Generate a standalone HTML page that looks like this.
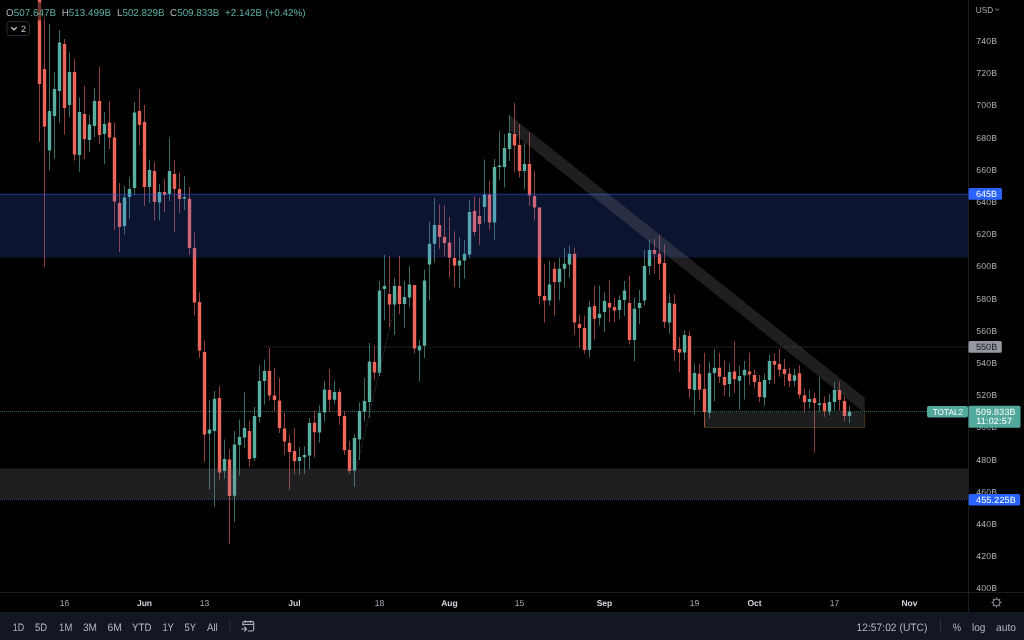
<!DOCTYPE html>
<html><head><meta charset="utf-8">
<style>
html,body{margin:0;padding:0;background:#000;}
body{width:1024px;height:640px;overflow:hidden;position:relative;font-family:"Liberation Sans",sans-serif;}
svg{position:absolute;left:0;top:0;display:block;}
svg text{font-family:"Liberation Sans",sans-serif;}
svg{-webkit-font-smoothing:antialiased;text-rendering:geometricPrecision;will-change:transform;}
.pl text{font-size:8.7px;fill:#a9acb4;}
.tn{font-size:8.5px;fill:#a9acb4;text-anchor:middle;}
.tb{font-size:8.5px;fill:#d1d4dc;font-weight:bold;text-anchor:middle;}
.lg{font-size:9.9px;}
.tbt{font-size:10.8px;fill:#b2b5be;}
</style></head>
<body>
<svg width="1024" height="640" viewBox="0 0 1024 640">
<defs><clipPath id="ch"><rect x="0" y="0" width="968" height="592"/></clipPath></defs>
<rect x="0" y="0" width="1024" height="640" fill="#000"/>
<g clip-path="url(#ch)">
<!-- dotted horizontal lines -->
<line x1="264" y1="347" x2="968" y2="347" stroke="#34363b" stroke-width="1" stroke-dasharray="1 1"/>
<line x1="0" y1="499.5" x2="968" y2="499.5" stroke="#35477f" stroke-width="1" stroke-dasharray="1 1"/>
<line x1="0" y1="411.5" x2="927" y2="411.5" stroke="#28665b" stroke-width="1" stroke-dasharray="1 1"/>
<!-- candles -->
<g>
<rect x="39.0" y="-20.0" width="1" height="162.00" fill="#ec665c" fill-opacity="0.62"/><rect x="37.8" y="-5.0" width="3.4" height="89.00" fill="#ec665c"/>
<rect x="44.0" y="15.0" width="1" height="252.00" fill="#ec665c" fill-opacity="0.62"/><rect x="42.8" y="69.0" width="3.4" height="57.60" fill="#ec665c"/>
<rect x="49.0" y="24.0" width="1" height="146.50" fill="#5aafa3" fill-opacity="0.62"/><rect x="47.8" y="111.0" width="3.4" height="39.50" fill="#5aafa3"/>
<rect x="54.0" y="72.0" width="1" height="86.50" fill="#5aafa3" fill-opacity="0.62"/><rect x="52.8" y="89.0" width="3.4" height="27.00" fill="#5aafa3"/>
<rect x="59.0" y="30.0" width="1" height="92.60" fill="#5aafa3" fill-opacity="0.62"/><rect x="57.8" y="42.5" width="3.4" height="48.50" fill="#5aafa3"/>
<rect x="64.0" y="39.0" width="1" height="95.60" fill="#ec665c" fill-opacity="0.62"/><rect x="62.8" y="44.0" width="3.4" height="64.00" fill="#ec665c"/>
<rect x="69.0" y="52.5" width="1" height="64.50" fill="#5aafa3" fill-opacity="0.62"/><rect x="67.8" y="72.0" width="3.4" height="33.00" fill="#5aafa3"/>
<rect x="74.0" y="59.0" width="1" height="101.60" fill="#ec665c" fill-opacity="0.62"/><rect x="72.8" y="72.0" width="3.4" height="82.50" fill="#ec665c"/>
<rect x="79.0" y="97.5" width="1" height="74.30" fill="#5aafa3" fill-opacity="0.62"/><rect x="77.8" y="112.0" width="3.4" height="43.00" fill="#5aafa3"/>
<rect x="84.0" y="86.0" width="1" height="73.00" fill="#ec665c" fill-opacity="0.62"/><rect x="82.8" y="114.0" width="3.4" height="25.00" fill="#ec665c"/>
<rect x="89.0" y="115.0" width="1" height="37.00" fill="#5aafa3" fill-opacity="0.62"/><rect x="87.8" y="124.5" width="3.4" height="15.50" fill="#5aafa3"/>
<rect x="94.0" y="88.0" width="1" height="49.00" fill="#5aafa3" fill-opacity="0.62"/><rect x="92.8" y="101.0" width="3.4" height="25.00" fill="#5aafa3"/>
<rect x="99.0" y="67.0" width="1" height="77.00" fill="#ec665c" fill-opacity="0.62"/><rect x="97.8" y="101.0" width="3.4" height="34.00" fill="#ec665c"/>
<rect x="104.0" y="112.0" width="1" height="52.00" fill="#5aafa3" fill-opacity="0.62"/><rect x="102.8" y="124.0" width="3.4" height="10.00" fill="#5aafa3"/>
<rect x="109.0" y="101.0" width="1" height="48.00" fill="#ec665c" fill-opacity="0.62"/><rect x="107.8" y="122.5" width="3.4" height="15.00" fill="#ec665c"/>
<rect x="114.0" y="122.6" width="1" height="107.40" fill="#ec665c" fill-opacity="0.62"/><rect x="112.8" y="137.5" width="3.4" height="64.00" fill="#ec665c"/>
<rect x="119.0" y="183.0" width="1" height="69.00" fill="#ec665c" fill-opacity="0.62"/><rect x="117.8" y="203.0" width="3.4" height="24.00" fill="#ec665c"/>
<rect x="124.0" y="186.0" width="1" height="48.50" fill="#5aafa3" fill-opacity="0.62"/><rect x="122.8" y="197.4" width="3.4" height="28.60" fill="#5aafa3"/>
<rect x="129.0" y="177.5" width="1" height="41.20" fill="#5aafa3" fill-opacity="0.62"/><rect x="127.8" y="189.0" width="3.4" height="8.00" fill="#5aafa3"/>
<rect x="134.0" y="102.0" width="1" height="93.00" fill="#5aafa3" fill-opacity="0.62"/><rect x="132.8" y="112.5" width="3.4" height="75.50" fill="#5aafa3"/>
<rect x="139.0" y="89.5" width="1" height="56.00" fill="#ec665c" fill-opacity="0.62"/><rect x="137.8" y="111.0" width="3.4" height="14.00" fill="#ec665c"/>
<rect x="144.0" y="105.0" width="1" height="101.00" fill="#ec665c" fill-opacity="0.62"/><rect x="142.8" y="122.0" width="3.4" height="65.00" fill="#ec665c"/>
<rect x="149.0" y="159.5" width="1" height="43.50" fill="#5aafa3" fill-opacity="0.62"/><rect x="147.8" y="170.0" width="3.4" height="17.00" fill="#5aafa3"/>
<rect x="154.0" y="162.0" width="1" height="58.50" fill="#ec665c" fill-opacity="0.62"/><rect x="152.8" y="171.0" width="3.4" height="31.00" fill="#ec665c"/>
<rect x="159.0" y="184.0" width="1" height="36.50" fill="#5aafa3" fill-opacity="0.62"/><rect x="157.8" y="192.0" width="3.4" height="10.50" fill="#5aafa3"/>
<rect x="164.0" y="179.0" width="1" height="33.00" fill="#ec665c" fill-opacity="0.62"/><rect x="162.8" y="192.0" width="3.4" height="3.00" fill="#ec665c"/>
<rect x="169.0" y="137.5" width="1" height="63.50" fill="#5aafa3" fill-opacity="0.62"/><rect x="167.8" y="171.0" width="3.4" height="23.00" fill="#5aafa3"/>
<rect x="174.0" y="160.5" width="1" height="71.50" fill="#ec665c" fill-opacity="0.62"/><rect x="172.8" y="174.0" width="3.4" height="15.00" fill="#ec665c"/>
<rect x="179.0" y="173.0" width="1" height="40.00" fill="#ec665c" fill-opacity="0.62"/><rect x="177.8" y="189.0" width="3.4" height="10.00" fill="#ec665c"/>
<rect x="184.0" y="176.0" width="1" height="34.00" fill="#5aafa3" fill-opacity="0.62"/><rect x="182.8" y="197.0" width="3.4" height="1.50" fill="#5aafa3"/>
<rect x="189.0" y="187.0" width="1" height="68.00" fill="#ec665c" fill-opacity="0.62"/><rect x="187.8" y="198.75" width="3.4" height="49.25" fill="#ec665c"/>
<rect x="194.0" y="232.5" width="1" height="83.00" fill="#ec665c" fill-opacity="0.62"/><rect x="192.8" y="248.0" width="3.4" height="54.50" fill="#ec665c"/>
<rect x="199.0" y="292.5" width="1" height="65.50" fill="#ec665c" fill-opacity="0.62"/><rect x="197.8" y="302.0" width="3.4" height="48.50" fill="#ec665c"/>
<rect x="204.0" y="340.5" width="1" height="121.50" fill="#ec665c" fill-opacity="0.62"/><rect x="202.8" y="352.0" width="3.4" height="82.50" fill="#ec665c"/>
<rect x="209.0" y="400.0" width="1" height="89.50" fill="#5aafa3" fill-opacity="0.62"/><rect x="207.8" y="429.5" width="3.4" height="4.25" fill="#5aafa3"/>
<rect x="214.0" y="391.0" width="1" height="116.00" fill="#5aafa3" fill-opacity="0.62"/><rect x="212.8" y="398.75" width="3.4" height="32.25" fill="#5aafa3"/>
<rect x="219.0" y="386.0" width="1" height="94.50" fill="#ec665c" fill-opacity="0.62"/><rect x="217.8" y="398.0" width="3.4" height="74.50" fill="#ec665c"/>
<rect x="224.0" y="439.5" width="1" height="39.25" fill="#5aafa3" fill-opacity="0.62"/><rect x="222.8" y="459.0" width="3.4" height="12.00" fill="#5aafa3"/>
<rect x="229.0" y="449.5" width="1" height="94.25" fill="#ec665c" fill-opacity="0.62"/><rect x="227.8" y="459.5" width="3.4" height="36.50" fill="#ec665c"/>
<rect x="234.0" y="431.0" width="1" height="91.00" fill="#5aafa3" fill-opacity="0.62"/><rect x="232.8" y="444.5" width="3.4" height="51.25" fill="#5aafa3"/>
<rect x="239.0" y="419.5" width="1" height="56.00" fill="#5aafa3" fill-opacity="0.62"/><rect x="237.8" y="437.0" width="3.4" height="8.00" fill="#5aafa3"/>
<rect x="244.0" y="392.5" width="1" height="55.50" fill="#5aafa3" fill-opacity="0.62"/><rect x="242.8" y="428.0" width="3.4" height="9.50" fill="#5aafa3"/>
<rect x="249.0" y="421.0" width="1" height="46.00" fill="#ec665c" fill-opacity="0.62"/><rect x="247.8" y="431.0" width="3.4" height="28.00" fill="#ec665c"/>
<rect x="254.0" y="407.0" width="1" height="54.00" fill="#5aafa3" fill-opacity="0.62"/><rect x="252.8" y="416.0" width="3.4" height="42.00" fill="#5aafa3"/>
<rect x="259.0" y="365.5" width="1" height="57.00" fill="#5aafa3" fill-opacity="0.62"/><rect x="257.8" y="381.0" width="3.4" height="36.00" fill="#5aafa3"/>
<rect x="264.0" y="359.5" width="1" height="45.00" fill="#5aafa3" fill-opacity="0.62"/><rect x="262.8" y="371.0" width="3.4" height="10.00" fill="#5aafa3"/>
<rect x="269.0" y="348.0" width="1" height="52.50" fill="#ec665c" fill-opacity="0.62"/><rect x="267.8" y="371.0" width="3.4" height="24.50" fill="#ec665c"/>
<rect x="274.0" y="368.0" width="1" height="43.00" fill="#ec665c" fill-opacity="0.62"/><rect x="272.8" y="395.5" width="3.4" height="4.50" fill="#ec665c"/>
<rect x="279.0" y="378.0" width="1" height="55.00" fill="#ec665c" fill-opacity="0.62"/><rect x="277.8" y="400.5" width="3.4" height="27.50" fill="#ec665c"/>
<rect x="284.0" y="413.0" width="1" height="41.75" fill="#ec665c" fill-opacity="0.62"/><rect x="282.8" y="428.5" width="3.4" height="13.00" fill="#ec665c"/>
<rect x="289.0" y="435.0" width="1" height="54.75" fill="#ec665c" fill-opacity="0.62"/><rect x="287.8" y="442.75" width="3.4" height="9.25" fill="#ec665c"/>
<rect x="294.0" y="428.0" width="1" height="46.00" fill="#ec665c" fill-opacity="0.62"/><rect x="292.8" y="451.0" width="3.4" height="10.25" fill="#ec665c"/>
<rect x="299.0" y="447.0" width="1" height="27.75" fill="#5aafa3" fill-opacity="0.62"/><rect x="297.8" y="457.0" width="3.4" height="4.00" fill="#5aafa3"/>
<rect x="304.0" y="446.25" width="1" height="27.50" fill="#5aafa3" fill-opacity="0.62"/><rect x="302.8" y="455.0" width="3.4" height="2.25" fill="#5aafa3"/>
<rect x="309.0" y="418.0" width="1" height="51.00" fill="#5aafa3" fill-opacity="0.62"/><rect x="307.8" y="423.0" width="3.4" height="32.60" fill="#5aafa3"/>
<rect x="314.0" y="410.5" width="1" height="46.75" fill="#ec665c" fill-opacity="0.62"/><rect x="312.8" y="422.75" width="3.4" height="9.50" fill="#ec665c"/>
<rect x="319.0" y="405.0" width="1" height="37.75" fill="#5aafa3" fill-opacity="0.62"/><rect x="317.8" y="413.0" width="3.4" height="19.50" fill="#5aafa3"/>
<rect x="324.0" y="381.0" width="1" height="41.00" fill="#5aafa3" fill-opacity="0.62"/><rect x="322.8" y="389.5" width="3.4" height="23.00" fill="#5aafa3"/>
<rect x="329.0" y="369.0" width="1" height="42.50" fill="#ec665c" fill-opacity="0.62"/><rect x="327.8" y="390.0" width="3.4" height="9.80" fill="#ec665c"/>
<rect x="334.0" y="380.6" width="1" height="23.90" fill="#5aafa3" fill-opacity="0.62"/><rect x="332.8" y="392.0" width="3.4" height="7.80" fill="#5aafa3"/>
<rect x="339.0" y="389.4" width="1" height="35.40" fill="#ec665c" fill-opacity="0.62"/><rect x="337.8" y="392.0" width="3.4" height="24.00" fill="#ec665c"/>
<rect x="344.0" y="411.5" width="1" height="43.25" fill="#ec665c" fill-opacity="0.62"/><rect x="342.8" y="416.0" width="3.4" height="34.30" fill="#ec665c"/>
<rect x="349.0" y="441.0" width="1" height="32.75" fill="#ec665c" fill-opacity="0.62"/><rect x="347.8" y="450.0" width="3.4" height="21.00" fill="#ec665c"/>
<rect x="354.0" y="434.0" width="1" height="52.90" fill="#5aafa3" fill-opacity="0.62"/><rect x="352.8" y="438.0" width="3.4" height="32.60" fill="#5aafa3"/>
<rect x="359.0" y="402.5" width="1" height="57.50" fill="#5aafa3" fill-opacity="0.62"/><rect x="357.8" y="411.0" width="3.4" height="28.40" fill="#5aafa3"/>
<rect x="364.0" y="378.0" width="1" height="43.00" fill="#5aafa3" fill-opacity="0.62"/><rect x="362.8" y="401.0" width="3.4" height="10.60" fill="#5aafa3"/>
<rect x="369.0" y="343.0" width="1" height="74.80" fill="#5aafa3" fill-opacity="0.62"/><rect x="367.8" y="361.6" width="3.4" height="40.40" fill="#5aafa3"/>
<rect x="374.0" y="345.5" width="1" height="34.80" fill="#ec665c" fill-opacity="0.62"/><rect x="372.8" y="362.0" width="3.4" height="10.50" fill="#ec665c"/>
<rect x="379.0" y="281.0" width="1" height="95.00" fill="#5aafa3" fill-opacity="0.62"/><rect x="377.8" y="290.5" width="3.4" height="82.30" fill="#5aafa3"/>
<rect x="384.0" y="255.0" width="1" height="65.50" fill="#5aafa3" fill-opacity="0.62"/><rect x="382.8" y="286.0" width="3.4" height="3.00" fill="#5aafa3"/>
<rect x="389.0" y="256.0" width="1" height="71.00" fill="#ec665c" fill-opacity="0.62"/><rect x="387.8" y="294.0" width="3.4" height="10.50" fill="#ec665c"/>
<rect x="394.0" y="278.0" width="1" height="57.00" fill="#5aafa3" fill-opacity="0.62"/><rect x="392.8" y="286.0" width="3.4" height="18.50" fill="#5aafa3"/>
<rect x="399.0" y="256.0" width="1" height="58.00" fill="#ec665c" fill-opacity="0.62"/><rect x="397.8" y="286.0" width="3.4" height="18.00" fill="#ec665c"/>
<rect x="404.0" y="281.0" width="1" height="46.50" fill="#5aafa3" fill-opacity="0.62"/><rect x="402.8" y="297.0" width="3.4" height="7.00" fill="#5aafa3"/>
<rect x="409.0" y="266.0" width="1" height="40.75" fill="#5aafa3" fill-opacity="0.62"/><rect x="407.8" y="284.5" width="3.4" height="13.00" fill="#5aafa3"/>
<rect x="414.0" y="285.0" width="1" height="68.40" fill="#ec665c" fill-opacity="0.62"/><rect x="412.8" y="285.0" width="3.4" height="63.50" fill="#ec665c"/>
<rect x="419.0" y="340.0" width="1" height="41.60" fill="#5aafa3" fill-opacity="0.62"/><rect x="417.8" y="345.7" width="3.4" height="4.70" fill="#5aafa3"/>
<rect x="424.0" y="269.5" width="1" height="88.50" fill="#5aafa3" fill-opacity="0.62"/><rect x="422.8" y="280.5" width="3.4" height="65.20" fill="#5aafa3"/>
<rect x="429.0" y="222.0" width="1" height="78.00" fill="#5aafa3" fill-opacity="0.62"/><rect x="427.8" y="243.75" width="3.4" height="20.75" fill="#5aafa3"/>
<rect x="434.0" y="198.0" width="1" height="64.50" fill="#5aafa3" fill-opacity="0.62"/><rect x="432.8" y="225.0" width="3.4" height="18.75" fill="#5aafa3"/>
<rect x="439.0" y="204.5" width="1" height="44.25" fill="#ec665c" fill-opacity="0.62"/><rect x="437.8" y="225.0" width="3.4" height="12.00" fill="#ec665c"/>
<rect x="444.0" y="205.5" width="1" height="50.75" fill="#ec665c" fill-opacity="0.62"/><rect x="442.8" y="237.0" width="3.4" height="6.00" fill="#ec665c"/>
<rect x="449.0" y="217.0" width="1" height="60.50" fill="#ec665c" fill-opacity="0.62"/><rect x="447.8" y="242.5" width="3.4" height="15.00" fill="#ec665c"/>
<rect x="454.0" y="231.25" width="1" height="55.75" fill="#ec665c" fill-opacity="0.62"/><rect x="452.8" y="258.0" width="3.4" height="7.50" fill="#ec665c"/>
<rect x="459.0" y="237.0" width="1" height="51.00" fill="#5aafa3" fill-opacity="0.62"/><rect x="457.8" y="260.5" width="3.4" height="5.00" fill="#5aafa3"/>
<rect x="464.0" y="240.0" width="1" height="38.75" fill="#5aafa3" fill-opacity="0.62"/><rect x="462.8" y="253.75" width="3.4" height="6.75" fill="#5aafa3"/>
<rect x="469.0" y="200.0" width="1" height="58.00" fill="#5aafa3" fill-opacity="0.62"/><rect x="467.8" y="212.0" width="3.4" height="42.50" fill="#5aafa3"/>
<rect x="474.0" y="196.0" width="1" height="40.00" fill="#ec665c" fill-opacity="0.62"/><rect x="472.8" y="211.0" width="3.4" height="21.00" fill="#ec665c"/>
<rect x="479.0" y="197.5" width="1" height="47.50" fill="#ec665c" fill-opacity="0.62"/><rect x="477.8" y="216.0" width="3.4" height="8.00" fill="#ec665c"/>
<rect x="484.0" y="159.5" width="1" height="63.00" fill="#5aafa3" fill-opacity="0.62"/><rect x="482.8" y="194.5" width="3.4" height="12.50" fill="#5aafa3"/>
<rect x="489.0" y="181.0" width="1" height="49.00" fill="#ec665c" fill-opacity="0.62"/><rect x="487.8" y="194.5" width="3.4" height="28.00" fill="#ec665c"/>
<rect x="494.0" y="159.0" width="1" height="81.00" fill="#5aafa3" fill-opacity="0.62"/><rect x="492.8" y="167.0" width="3.4" height="55.50" fill="#5aafa3"/>
<rect x="499.0" y="131.0" width="1" height="48.50" fill="#5aafa3" fill-opacity="0.62"/><rect x="497.8" y="165.5" width="3.4" height="1.50" fill="#5aafa3"/>
<rect x="504.0" y="134.0" width="1" height="53.50" fill="#5aafa3" fill-opacity="0.62"/><rect x="502.8" y="148.0" width="3.4" height="19.00" fill="#5aafa3"/>
<rect x="509.0" y="115.0" width="1" height="46.00" fill="#5aafa3" fill-opacity="0.62"/><rect x="507.8" y="133.0" width="3.4" height="16.00" fill="#5aafa3"/>
<rect x="514.0" y="103.0" width="1" height="69.50" fill="#ec665c" fill-opacity="0.62"/><rect x="512.8" y="134.0" width="3.4" height="11.50" fill="#ec665c"/>
<rect x="519.0" y="124.0" width="1" height="53.50" fill="#ec665c" fill-opacity="0.62"/><rect x="517.8" y="145.0" width="3.4" height="26.00" fill="#ec665c"/>
<rect x="524.0" y="143.0" width="1" height="46.50" fill="#5aafa3" fill-opacity="0.62"/><rect x="522.8" y="164.0" width="3.4" height="7.00" fill="#5aafa3"/>
<rect x="529.0" y="132.5" width="1" height="73.50" fill="#ec665c" fill-opacity="0.62"/><rect x="527.8" y="164.0" width="3.4" height="31.50" fill="#ec665c"/>
<rect x="534.0" y="171.0" width="1" height="49.50" fill="#ec665c" fill-opacity="0.62"/><rect x="532.8" y="196.0" width="3.4" height="11.50" fill="#ec665c"/>
<rect x="539.0" y="207.5" width="1" height="97.00" fill="#ec665c" fill-opacity="0.62"/><rect x="537.8" y="207.5" width="3.4" height="88.50" fill="#ec665c"/>
<rect x="544.0" y="263.75" width="1" height="58.75" fill="#ec665c" fill-opacity="0.62"/><rect x="542.8" y="296.0" width="3.4" height="4.50" fill="#ec665c"/>
<rect x="549.0" y="261.0" width="1" height="44.50" fill="#5aafa3" fill-opacity="0.62"/><rect x="547.8" y="284.5" width="3.4" height="16.00" fill="#5aafa3"/>
<rect x="554.0" y="262.0" width="1" height="53.50" fill="#ec665c" fill-opacity="0.62"/><rect x="552.8" y="268.75" width="3.4" height="13.25" fill="#ec665c"/>
<rect x="559.0" y="257.5" width="1" height="43.00" fill="#5aafa3" fill-opacity="0.62"/><rect x="557.8" y="268.75" width="3.4" height="13.25" fill="#5aafa3"/>
<rect x="564.0" y="248.0" width="1" height="39.50" fill="#5aafa3" fill-opacity="0.62"/><rect x="562.8" y="263.75" width="3.4" height="5.00" fill="#5aafa3"/>
<rect x="569.0" y="245.5" width="1" height="32.50" fill="#5aafa3" fill-opacity="0.62"/><rect x="567.8" y="253.75" width="3.4" height="10.75" fill="#5aafa3"/>
<rect x="574.0" y="247.5" width="1" height="87.00" fill="#ec665c" fill-opacity="0.62"/><rect x="572.8" y="253.75" width="3.4" height="68.75" fill="#ec665c"/>
<rect x="579.0" y="314.5" width="1" height="33.00" fill="#ec665c" fill-opacity="0.62"/><rect x="577.8" y="324.0" width="3.4" height="4.00" fill="#ec665c"/>
<rect x="584.0" y="315.5" width="1" height="38.25" fill="#ec665c" fill-opacity="0.62"/><rect x="582.8" y="328.0" width="3.4" height="22.00" fill="#ec665c"/>
<rect x="589.0" y="301.0" width="1" height="56.50" fill="#5aafa3" fill-opacity="0.62"/><rect x="587.8" y="307.0" width="3.4" height="43.00" fill="#5aafa3"/>
<rect x="594.0" y="286.0" width="1" height="53.50" fill="#ec665c" fill-opacity="0.62"/><rect x="592.8" y="306.0" width="3.4" height="12.75" fill="#ec665c"/>
<rect x="599.0" y="285.5" width="1" height="40.00" fill="#5aafa3" fill-opacity="0.62"/><rect x="597.8" y="313.75" width="3.4" height="4.25" fill="#5aafa3"/>
<rect x="604.0" y="292.5" width="1" height="39.50" fill="#5aafa3" fill-opacity="0.62"/><rect x="602.8" y="301.0" width="3.4" height="11.00" fill="#5aafa3"/>
<rect x="609.0" y="280.5" width="1" height="42.00" fill="#ec665c" fill-opacity="0.62"/><rect x="607.8" y="303.0" width="3.4" height="4.50" fill="#ec665c"/>
<rect x="614.0" y="298.0" width="1" height="24.00" fill="#ec665c" fill-opacity="0.62"/><rect x="612.8" y="307.0" width="3.4" height="3.50" fill="#ec665c"/>
<rect x="619.0" y="295.5" width="1" height="23.25" fill="#5aafa3" fill-opacity="0.62"/><rect x="617.8" y="300.0" width="3.4" height="10.00" fill="#5aafa3"/>
<rect x="624.0" y="281.0" width="1" height="35.00" fill="#5aafa3" fill-opacity="0.62"/><rect x="622.8" y="290.5" width="3.4" height="9.50" fill="#5aafa3"/>
<rect x="629.0" y="276.0" width="1" height="68.50" fill="#ec665c" fill-opacity="0.62"/><rect x="627.8" y="303.0" width="3.4" height="37.00" fill="#ec665c"/>
<rect x="634.0" y="297.5" width="1" height="63.50" fill="#5aafa3" fill-opacity="0.62"/><rect x="632.8" y="308.75" width="3.4" height="31.25" fill="#5aafa3"/>
<rect x="639.0" y="290.0" width="1" height="34.00" fill="#5aafa3" fill-opacity="0.62"/><rect x="637.8" y="303.0" width="3.4" height="5.00" fill="#5aafa3"/>
<rect x="644.0" y="250.0" width="1" height="55.50" fill="#5aafa3" fill-opacity="0.62"/><rect x="642.8" y="266.0" width="3.4" height="34.50" fill="#5aafa3"/>
<rect x="649.0" y="239.5" width="1" height="35.50" fill="#5aafa3" fill-opacity="0.62"/><rect x="647.8" y="250.0" width="3.4" height="16.00" fill="#5aafa3"/>
<rect x="654.0" y="238.75" width="1" height="35.00" fill="#ec665c" fill-opacity="0.62"/><rect x="652.8" y="250.0" width="3.4" height="3.75" fill="#ec665c"/>
<rect x="659.0" y="235.0" width="1" height="44.50" fill="#ec665c" fill-opacity="0.62"/><rect x="657.8" y="253.75" width="3.4" height="10.00" fill="#ec665c"/>
<rect x="664.0" y="244.5" width="1" height="83.50" fill="#ec665c" fill-opacity="0.62"/><rect x="662.8" y="263.0" width="3.4" height="59.00" fill="#ec665c"/>
<rect x="669.0" y="293.75" width="1" height="40.00" fill="#5aafa3" fill-opacity="0.62"/><rect x="667.8" y="303.0" width="3.4" height="19.50" fill="#5aafa3"/>
<rect x="674.0" y="294.5" width="1" height="66.50" fill="#ec665c" fill-opacity="0.62"/><rect x="672.8" y="303.75" width="3.4" height="46.25" fill="#ec665c"/>
<rect x="679.0" y="337.0" width="1" height="35.00" fill="#ec665c" fill-opacity="0.62"/><rect x="677.8" y="349.0" width="3.4" height="3.50" fill="#ec665c"/>
<rect x="684.0" y="330.5" width="1" height="29.50" fill="#5aafa3" fill-opacity="0.62"/><rect x="682.8" y="335.0" width="3.4" height="17.50" fill="#5aafa3"/>
<rect x="689.0" y="331.0" width="1" height="67.00" fill="#ec665c" fill-opacity="0.62"/><rect x="687.8" y="336.0" width="3.4" height="53.00" fill="#ec665c"/>
<rect x="694.0" y="363.6" width="1" height="50.80" fill="#5aafa3" fill-opacity="0.62"/><rect x="692.8" y="373.0" width="3.4" height="17.00" fill="#5aafa3"/>
<rect x="699.0" y="363.6" width="1" height="35.90" fill="#ec665c" fill-opacity="0.62"/><rect x="697.8" y="373.75" width="3.4" height="15.95" fill="#ec665c"/>
<rect x="704.0" y="352.7" width="1" height="74.30" fill="#ec665c" fill-opacity="0.62"/><rect x="702.8" y="389.0" width="3.4" height="23.00" fill="#ec665c"/>
<rect x="709.0" y="362.0" width="1" height="56.00" fill="#5aafa3" fill-opacity="0.62"/><rect x="707.8" y="373.0" width="3.4" height="39.80" fill="#5aafa3"/>
<rect x="714.0" y="349.0" width="1" height="52.00" fill="#5aafa3" fill-opacity="0.62"/><rect x="712.8" y="367.8" width="3.4" height="5.20" fill="#5aafa3"/>
<rect x="719.0" y="352.7" width="1" height="30.30" fill="#ec665c" fill-opacity="0.62"/><rect x="717.8" y="367.8" width="3.4" height="8.80" fill="#ec665c"/>
<rect x="724.0" y="360.5" width="1" height="35.10" fill="#ec665c" fill-opacity="0.62"/><rect x="722.8" y="377.0" width="3.4" height="8.00" fill="#ec665c"/>
<rect x="729.0" y="363.0" width="1" height="34.00" fill="#5aafa3" fill-opacity="0.62"/><rect x="727.8" y="372.0" width="3.4" height="12.00" fill="#5aafa3"/>
<rect x="734.0" y="341.7" width="1" height="51.10" fill="#ec665c" fill-opacity="0.62"/><rect x="732.8" y="371.4" width="3.4" height="7.80" fill="#ec665c"/>
<rect x="739.0" y="365.6" width="1" height="44.10" fill="#5aafa3" fill-opacity="0.62"/><rect x="737.8" y="376.0" width="3.4" height="4.80" fill="#5aafa3"/>
<rect x="744.0" y="361.0" width="1" height="38.50" fill="#5aafa3" fill-opacity="0.62"/><rect x="742.8" y="369.8" width="3.4" height="5.50" fill="#5aafa3"/>
<rect x="749.0" y="352.7" width="1" height="32.30" fill="#ec665c" fill-opacity="0.62"/><rect x="747.8" y="371.4" width="3.4" height="3.10" fill="#ec665c"/>
<rect x="754.0" y="369.4" width="1" height="19.20" fill="#ec665c" fill-opacity="0.62"/><rect x="752.8" y="375.0" width="3.4" height="7.00" fill="#ec665c"/>
<rect x="759.0" y="375.0" width="1" height="27.00" fill="#ec665c" fill-opacity="0.62"/><rect x="757.8" y="382.0" width="3.4" height="15.00" fill="#ec665c"/>
<rect x="764.0" y="373.75" width="1" height="32.05" fill="#5aafa3" fill-opacity="0.62"/><rect x="762.8" y="380.0" width="3.4" height="17.50" fill="#5aafa3"/>
<rect x="769.0" y="354.7" width="1" height="29.70" fill="#5aafa3" fill-opacity="0.62"/><rect x="767.8" y="361.0" width="3.4" height="19.00" fill="#5aafa3"/>
<rect x="774.0" y="353.0" width="1" height="31.00" fill="#ec665c" fill-opacity="0.62"/><rect x="772.8" y="361.0" width="3.4" height="3.70" fill="#ec665c"/>
<rect x="779.0" y="349.0" width="1" height="27.60" fill="#ec665c" fill-opacity="0.62"/><rect x="777.8" y="364.0" width="3.4" height="5.80" fill="#ec665c"/>
<rect x="784.0" y="359.0" width="1" height="27.00" fill="#ec665c" fill-opacity="0.62"/><rect x="782.8" y="369.0" width="3.4" height="5.00" fill="#ec665c"/>
<rect x="789.0" y="367.5" width="1" height="19.50" fill="#ec665c" fill-opacity="0.62"/><rect x="787.8" y="373.75" width="3.4" height="7.25" fill="#ec665c"/>
<rect x="794.0" y="368.75" width="1" height="17.85" fill="#5aafa3" fill-opacity="0.62"/><rect x="792.8" y="375.3" width="3.4" height="5.50" fill="#5aafa3"/>
<rect x="799.0" y="365.0" width="1" height="33.50" fill="#ec665c" fill-opacity="0.62"/><rect x="797.8" y="373.3" width="3.4" height="21.40" fill="#ec665c"/>
<rect x="804.0" y="388.5" width="1" height="23.70" fill="#ec665c" fill-opacity="0.62"/><rect x="802.8" y="395.3" width="3.4" height="7.00" fill="#ec665c"/>
<rect x="809.0" y="389.4" width="1" height="19.30" fill="#5aafa3" fill-opacity="0.62"/><rect x="807.8" y="399.0" width="3.4" height="2.90" fill="#5aafa3"/>
<rect x="814.0" y="392.5" width="1" height="60.00" fill="#ec665c" fill-opacity="0.62"/><rect x="812.8" y="398.3" width="3.4" height="4.70" fill="#ec665c"/>
<rect x="819.0" y="377.0" width="1" height="34.80" fill="#5aafa3" fill-opacity="0.62"/><rect x="817.8" y="403.4" width="3.4" height="1.60" fill="#5aafa3"/>
<rect x="824.0" y="396.3" width="1" height="20.50" fill="#ec665c" fill-opacity="0.62"/><rect x="822.8" y="403.0" width="3.4" height="8.20" fill="#ec665c"/>
<rect x="829.0" y="394.0" width="1" height="21.50" fill="#5aafa3" fill-opacity="0.62"/><rect x="827.8" y="401.9" width="3.4" height="9.70" fill="#5aafa3"/>
<rect x="834.0" y="381.9" width="1" height="28.40" fill="#5aafa3" fill-opacity="0.62"/><rect x="832.8" y="390.0" width="3.4" height="11.90" fill="#5aafa3"/>
<rect x="839.0" y="381.6" width="1" height="29.20" fill="#ec665c" fill-opacity="0.62"/><rect x="837.8" y="390.0" width="3.4" height="9.80" fill="#ec665c"/>
<rect x="844.0" y="396.7" width="1" height="24.30" fill="#ec665c" fill-opacity="0.62"/><rect x="842.8" y="401.0" width="3.4" height="15.00" fill="#ec665c"/>
<rect x="849.0" y="406.0" width="1" height="16.80" fill="#5aafa3" fill-opacity="0.62"/><rect x="847.8" y="411.9" width="3.4" height="4.10" fill="#5aafa3"/>
</g>
<!-- blue zone -->
<rect x="0" y="194" width="968" height="63.6" fill="rgba(64,110,255,0.185)"/>
<rect x="0" y="193.6" width="968" height="1.3" fill="rgba(41,98,255,0.42)"/>
<!-- gray zone -->
<rect x="0" y="468.5" width="968" height="30.5" fill="rgba(128,130,140,0.24)"/>
<!-- rectangle -->
<rect x="704.5" y="411.75" width="160.25" height="15.75" fill="rgba(128,130,140,0.22)"/>
<path d="M704.5,412V427.5H864.75V412" fill="none" stroke="rgba(190,130,50,0.3)" stroke-width="1"/>
<polygon points="510,115.6 864.75,397.8 864.75,411.25 862.55,411.25 510,130.79999999999998" fill="rgba(128,130,140,0.24)"/>
<!-- thin dotted trend -->
<line x1="356" y1="470.5" x2="398" y2="293" stroke="#54565c" stroke-width="0.9" stroke-dasharray="1 1.6"/>
<!-- legend bg -->
<rect x="0" y="2.3" width="312" height="18" fill="rgba(0,0,0,0.52)"/>
</g>
<!-- legend -->
<g class="lg">
<text x="6" y="15.6"><tspan fill="#b2b5be">O</tspan><tspan fill="#5aafa3">507.647B</tspan></text>
<text x="61.7" y="15.6"><tspan fill="#b2b5be">H</tspan><tspan fill="#5aafa3">513.499B</tspan></text>
<text x="116.9" y="15.6"><tspan fill="#b2b5be">L</tspan><tspan fill="#5aafa3">502.829B</tspan></text>
<text x="170" y="15.6"><tspan fill="#b2b5be">C</tspan><tspan fill="#5aafa3">509.833B</tspan></text>
<text x="225" y="15.6" fill="#5aafa3">+2.142B</text>
<text x="265.3" y="15.6" fill="#5aafa3">(+0.42%)</text>
</g>
<rect x="6.95" y="21.6" width="22.5" height="14" rx="3" fill="none" stroke="#2a2d35" stroke-width="1"/>
<polyline points="11.3,27.2 14,29.8 16.7,27.2" fill="none" stroke="#c8cad0" stroke-width="1.25"/>
<text x="21" y="32" font-size="9" fill="#c8cad0">2</text>
<!-- price axis -->
<rect x="968" y="0" width="1" height="612" fill="#1c1c1f"/>
<g class="pl">
<text x="975.8" y="12.9" textLength="17.3" lengthAdjust="spacingAndGlyphs">USD</text>
<text x="976.2" y="44.0" textLength="20.8" lengthAdjust="spacing">740B</text>
<text x="976.2" y="76.2" textLength="20.8" lengthAdjust="spacing">720B</text>
<text x="976.2" y="108.4" textLength="20.8" lengthAdjust="spacing">700B</text>
<text x="976.2" y="140.6" textLength="20.8" lengthAdjust="spacing">680B</text>
<text x="976.2" y="172.8" textLength="20.8" lengthAdjust="spacing">660B</text>
<text x="976.2" y="205.0" textLength="20.8" lengthAdjust="spacing">640B</text>
<text x="976.2" y="237.2" textLength="20.8" lengthAdjust="spacing">620B</text>
<text x="976.2" y="269.4" textLength="20.8" lengthAdjust="spacing">600B</text>
<text x="976.2" y="301.6" textLength="20.8" lengthAdjust="spacing">580B</text>
<text x="976.2" y="333.8" textLength="20.8" lengthAdjust="spacing">560B</text>
<text x="976.2" y="366.0" textLength="20.8" lengthAdjust="spacing">540B</text>
<text x="976.2" y="398.2" textLength="20.8" lengthAdjust="spacing">520B</text>
<text x="976.2" y="430.4" textLength="20.8" lengthAdjust="spacing">500B</text>
<text x="976.2" y="462.6" textLength="20.8" lengthAdjust="spacing">480B</text>
<text x="976.2" y="494.8" textLength="20.8" lengthAdjust="spacing">460B</text>
<text x="976.2" y="527.0" textLength="20.8" lengthAdjust="spacing">440B</text>
<text x="976.2" y="559.2" textLength="20.8" lengthAdjust="spacing">420B</text>
<text x="976.2" y="591.4" textLength="20.8" lengthAdjust="spacing">400B</text>
</g>
<polyline points="995.3,8.6 997.2,10.3 999.1,8.6" fill="none" stroke="#a9acb4" stroke-width="0.9"/>
<!-- price labels -->
<rect x="968.5" y="188" width="33.5" height="11.7" rx="1.5" fill="#2962ff"/>
<text x="975.9" y="197.2" font-size="9" fill="#fff" textLength="21.1" lengthAdjust="spacing">645B</text>
<rect x="968.5" y="341.1" width="33.3" height="11.7" rx="1.5" fill="#9598a1"/>
<text x="975.9" y="350.2" font-size="9" fill="#131722" textLength="21.3" lengthAdjust="spacing">550B</text>
<rect x="927" y="406" width="41" height="11.5" rx="2" fill="#52a89a"/>
<text x="932.7" y="414.6" font-size="8.3" fill="#fff" textLength="30.4" lengthAdjust="spacingAndGlyphs">TOTAL2</text>
<rect x="968.5" y="405.7" width="52" height="22" rx="1.5" fill="#52a89a"/>
<text x="975.8" y="414.6" font-size="9" fill="#fff" textLength="39.8" lengthAdjust="spacing">509.833B</text>
<text x="976.3" y="424.4" font-size="9" fill="#fff" textLength="35.6" lengthAdjust="spacing">11:02:57</text>
<rect x="968.6" y="493.9" width="51.6" height="11.7" rx="1.5" fill="#2962ff"/>
<text x="976" y="502.7" font-size="9" fill="#fff" textLength="39.8" lengthAdjust="spacing">455.225B</text>
<!-- time axis -->
<rect x="0" y="592" width="1024" height="1" fill="#1c1c1f"/>
<text x="64.5" y="605.7" class="tn">16</text>
<text x="144.5" y="605.7" class="tb">Jun</text>
<text x="204.5" y="605.7" class="tn">13</text>
<text x="294.5" y="605.7" class="tb">Jul</text>
<text x="379.5" y="605.7" class="tn">18</text>
<text x="449.5" y="605.7" class="tb">Aug</text>
<text x="519.5" y="605.7" class="tn">15</text>
<text x="604.5" y="605.7" class="tb">Sep</text>
<text x="694.5" y="605.7" class="tn">19</text>
<text x="754.5" y="605.7" class="tb">Oct</text>
<text x="834.5" y="605.7" class="tn">17</text>
<text x="909.5" y="605.7" class="tb">Nov</text>
<!-- gear -->
<g transform="translate(996.5,602.5)">
<path d="M0.00,-5.50 L1.36,-3.28 L3.89,-3.89 L3.28,-1.36 L5.50,0.00 L3.28,1.36 L3.89,3.89 L1.36,3.28 L0.00,5.50 L-1.36,3.28 L-3.89,3.89 L-3.28,1.36 L-5.50,0.00 L-3.28,-1.36 L-3.89,-3.89 L-1.36,-3.28 Z M2.65,0 A2.65,2.65 0 1,0 -2.65,0 A2.65,2.65 0 1,0 2.65,0 Z" fill="#7c7f88" fill-rule="evenodd"/>
</g>
<!-- toolbar -->
<rect x="0" y="612" width="1024" height="28" fill="#131722"/>
<g class="tbt">
<text x="12.7" y="630.7" textLength="11.4" lengthAdjust="spacingAndGlyphs">1D</text>
<text x="35" y="630.7" textLength="12.2" lengthAdjust="spacingAndGlyphs">5D</text>
<text x="59.1" y="630.7" textLength="13.2" lengthAdjust="spacingAndGlyphs">1M</text>
<text x="83" y="630.7" textLength="14" lengthAdjust="spacingAndGlyphs">3M</text>
<text x="107.4" y="630.7" textLength="14.4" lengthAdjust="spacingAndGlyphs">6M</text>
<text x="132" y="630.7" textLength="19.5" lengthAdjust="spacingAndGlyphs">YTD</text>
<text x="162.4" y="630.7" textLength="11.5" lengthAdjust="spacingAndGlyphs">1Y</text>
<text x="184.5" y="630.7" textLength="11.5" lengthAdjust="spacingAndGlyphs">5Y</text>
<text x="206.9" y="630.7" textLength="10.9" lengthAdjust="spacingAndGlyphs">All</text>
<text x="856.5" y="630.7" textLength="71" lengthAdjust="spacingAndGlyphs">12:57:02 (UTC)</text>
<text x="952.7" y="630.7" textLength="8.3" lengthAdjust="spacingAndGlyphs">%</text>
<text x="971.9" y="630.7" textLength="13.5" lengthAdjust="spacingAndGlyphs">log</text>
<text x="996" y="630.7" textLength="20" lengthAdjust="spacingAndGlyphs">auto</text>
</g>
<rect x="229.5" y="619" width="1" height="15" fill="#2a2e39"/>
<rect x="940" y="618.5" width="1" height="15" fill="#2a2e39"/>
<!-- calendar icon -->
<g stroke="#b2b5be" fill="none" stroke-width="1.1">
<path d="M242.8,625.6V623.1Q242.8,621.6 244.3,621.6H252.2Q253.7,621.6 253.7,623.1V629.5Q253.7,631 252.2,631H248"/>
<path d="M242.8,624.4H253.7"/>
<path d="M245.4,620.6V622.4M250.4,620.6V622.4" stroke-width="1.3"/>
<path d="M241.4,629H246.5M244.2,626.6L246.6,629L244.2,631.4"/>
</g>
</svg>
</body></html>
